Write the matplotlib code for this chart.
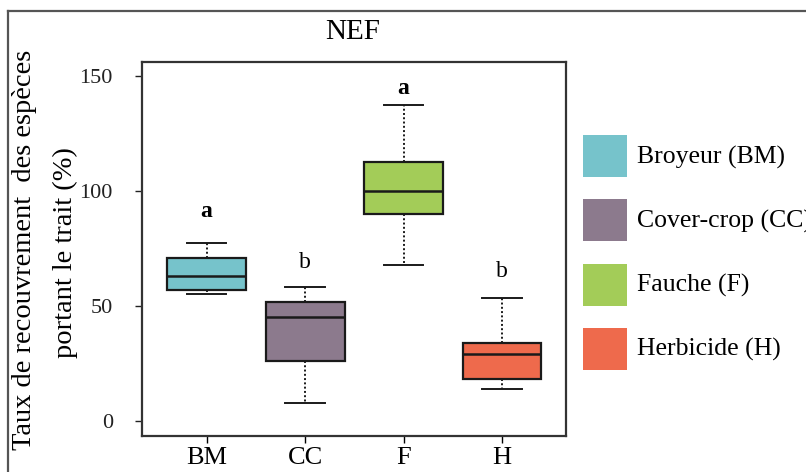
import matplotlib
matplotlib.use("Agg")
import matplotlib.pyplot as plt
from matplotlib.patches import Rectangle
from matplotlib.lines import Line2D

plt.rcParams['font.family'] = ['Liberation Serif', 'DejaVu Serif']

groups = ["BM", "CC", "F", "H"]
legend_names = ["Broyeur (BM)", "Cover-crop (CC)", "Fauche (F)", "Herbicide (H)"]
colors = ["#76C3CB", "#8C7A8D", "#A3CC58", "#EE6A4C"]

# boxplot summaries (%)
whislo = [55.1, 8.0, 67.7, 14.1]
q1 = [57.0, 26.1, 89.9, 18.1]
med = [63.0, 45.1, 100.1, 29.1]
q3 = [70.7, 51.9, 112.6, 33.8]
whishi = [77.3, 58.3, 137.2, 53.5]

# significance letters
letters = ["a", "b", "a", "b"]
letter_y = [91.3, 69.0, 144.6, 65.2]
letter_bold = [True, False, True, False]

W, H = 806, 472
fig = plt.figure(figsize=(W / 100, H / 100), dpi=100)
fig.patch.set_facecolor("white")

ax = fig.add_axes([142 / W, 1 - 436 / H, (566 - 142) / W, (436 - 62) / H])

stats = []
for i in range(len(groups)):
    stats.append(dict(whislo=whislo[i], q1=q1[i], med=med[i], q3=q3[i],
                      whishi=whishi[i], fliers=[], label=groups[i]))

bp = ax.bxp(stats, positions=[1, 2, 3, 4], widths=0.8, capwidths=0.4,
            patch_artist=True, showfliers=False,
            boxprops=dict(linewidth=1.6, edgecolor="#1a1a1a"),
            medianprops=dict(linewidth=1.8, color="#1a1a1a"),
            whiskerprops=dict(linewidth=1.4, linestyle=(0, (1, 1.2)), color="#1a1a1a"),
            capprops=dict(linewidth=1.4, color="#1a1a1a"))
for patch, c in zip(bp["boxes"], colors):
    patch.set_facecolor(c)

for i in range(len(groups)):
    ax.text(i + 1, letter_y[i], letters[i], ha="center", va="center",
            fontsize=17, fontweight="bold" if letter_bold[i] else "normal")

ax.set_xlim(0.343, 4.65)
ax.set_ylim(-6.5, 156.1)
ax.set_yticks([0, 50, 100, 150])
ax.set_yticklabels(["0", "50", "100", "150"])
ax.tick_params(axis="y", length=5, width=1, pad=16, labelsize=16, colors="#222222")
ax.tick_params(axis="x", length=5, width=1, pad=3, labelsize=19)
for s in ax.spines.values():
    s.set_linewidth(1.6)
    s.set_color("#333333")

fig.text(353 / W, 1 - 32 / H, "NEF", ha="center", va="center", fontsize=21)
fig.text(25 / W, 1 - 250 / H, "Taux de recouvrement  des espèces", rotation=90,
         ha="center", va="center", fontsize=20.5)
fig.text(65 / W, 1 - 253 / H, "portant le trait (%)", rotation=90,
         ha="center", va="center", fontsize=20.5)

# outer frame (top and left edges)
fig.add_artist(Line2D([8 / W, 8 / W], [0, 1 - 11 / H], transform=fig.transFigure,
                      color="#555555", linewidth=1.6))
fig.add_artist(Line2D([8 / W, 1], [1 - 11 / H, 1 - 11 / H], transform=fig.transFigure,
                      color="#555555", linewidth=1.6))

# legend drawn in pixel units
lax = fig.add_axes([575 / W, 0, (W - 575) / W, 1])
lax.set_xlim(575, W)
lax.set_ylim(H, 0)
lax.axis("off")
for i, name in enumerate(legend_names):
    top = 135 + i * 64.3
    lax.add_patch(Rectangle((583, top), 44, 42, facecolor=colors[i], edgecolor="none"))
    lax.text(637, top + 22, name, ha="left", va="center", fontsize=18.5, clip_on=True)

fig.savefig("out.png", dpi=100)
